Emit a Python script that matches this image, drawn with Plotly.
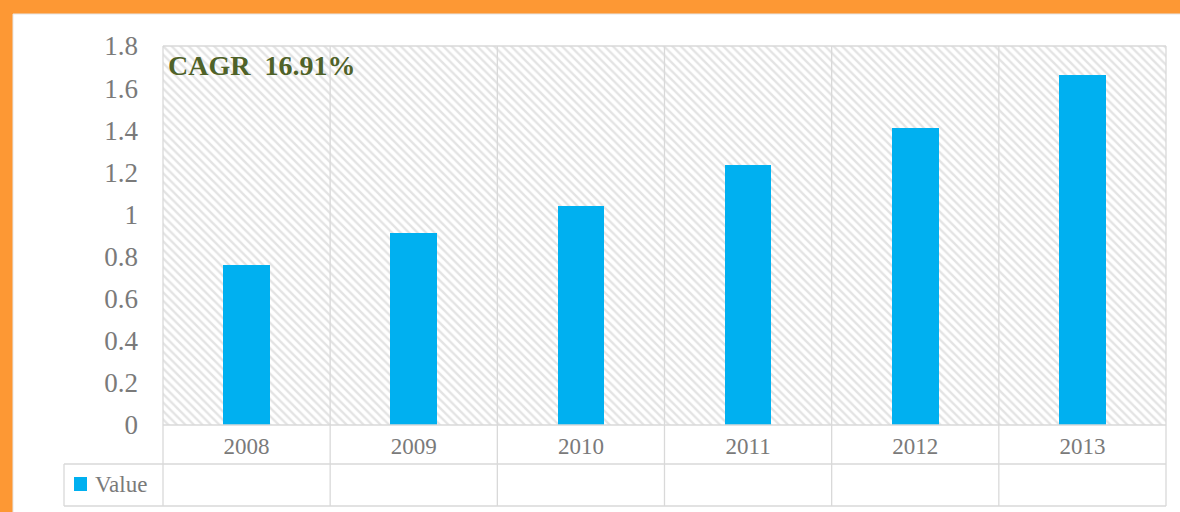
import plotly.graph_objects as go

years = ["2008", "2009", "2010", "2011", "2012", "2013"]
values = [0.76, 0.91, 1.04, 1.235, 1.41, 1.66]
y_max = 1.8
y_tick_step = 0.2
series_name = "Value"
cagr_text = "CAGR  16.91%"

W, H = 1180, 512
L, R, T, B = 163, 14, 46, 87
PW, PH = W - L - R, H - T - B

def px_x(x):
    return (x - L) / PW

def px_y(y):
    return (H - B - y) / PH

FONT = "Liberation Serif"
GRID = "#d9d9d9"
ORANGE = "#fd9834"
TICK = "#7a7a7a"
BAR = "#00b0f0"

fig = go.Figure()

# hatched background panels
fig.add_trace(go.Bar(
    x=years, y=[y_max] * len(years), width=1.0,
    marker=dict(color="white", line=dict(width=0),
                pattern=dict(shape="\\", fgcolor="#c8c8c8", bgcolor="white", size=6, solidity=0.4)),
    showlegend=False, hoverinfo="skip",
))
fig.add_trace(go.Bar(
    x=years, y=values, width=0.28, name=series_name,
    marker=dict(color=BAR, line=dict(width=0)), showlegend=False,
))

shapes = []
# orange frame + white card
shapes.append(dict(type="rect", xref="paper", yref="paper", layer="below",
                   x0=px_x(0), x1=px_x(W), y0=px_y(0), y1=px_y(H), fillcolor=ORANGE, line=dict(width=0)))
shapes.append(dict(type="rect", xref="paper", yref="paper", layer="below",
                   x0=px_x(13), x1=px_x(W + 5), y0=px_y(14), y1=px_y(H + 5), fillcolor="white",
                   line=dict(width=1, color="#e6e6e6")))
# table lines
n = len(years)
for k in range(n + 1):
    xp = k / n
    shapes.append(dict(type="line", xref="paper", yref="paper", x0=xp, x1=xp,
                       y0=1, y1=px_y(506), line=dict(color=GRID, width=1.3)))
for yy, x0 in [(425, 163), (464, 64), (506, 64)]:
    shapes.append(dict(type="line", xref="paper", yref="paper", x0=px_x(x0), x1=1,
                       y0=px_y(yy), y1=px_y(yy), line=dict(color=GRID, width=1.3)))
shapes.append(dict(type="line", xref="paper", yref="paper", x0=px_x(64), x1=px_x(64),
                   y0=px_y(464), y1=px_y(506), line=dict(color=GRID, width=1.3)))
shapes.append(dict(type="line", xref="paper", yref="paper", x0=0, x1=1,
                   y0=1, y1=1, line=dict(color=GRID, width=1.3)))
# legend key square
shapes.append(dict(type="rect", xref="paper", yref="paper", x0=px_x(74), x1=px_x(87),
                   y0=px_y(477), y1=px_y(491), fillcolor=BAR, line=dict(width=0)))

fig.update_layout(
    width=W, height=H,
    margin=dict(l=L, r=R, t=T, b=B),
    paper_bgcolor="white", plot_bgcolor="rgba(0,0,0,0)",
    barmode="overlay", bargap=0,
    shapes=shapes,
    showlegend=False,
    annotations=[
        dict(text="<b>" + cagr_text + "</b>", xref="paper", yref="paper",
             x=px_x(166), y=px_y(65), xanchor="left", yanchor="middle", showarrow=False,
             font=dict(family=FONT, size=28, color="#4f6228")),
        dict(text=series_name, xref="paper", yref="paper",
             x=px_x(93), y=px_y(484), xanchor="left", yanchor="middle", showarrow=False,
             font=dict(family=FONT, size=23, color=TICK)),
    ],
)
fig.update_xaxes(type="category", range=[-0.5, n - 0.5], showgrid=False, showline=False,
                 ticks="", tickfont=dict(family=FONT, size=23, color=TICK),
                 ticklabelstandoff=5, automargin=False)
fig.update_yaxes(range=[0, y_max], dtick=y_tick_step, tick0=0, showgrid=True, gridcolor=GRID,
                 gridwidth=1.3, zeroline=False, showline=False, ticks="",
                 tickfont=dict(family=FONT, size=27, color=TICK), ticklabelstandoff=24,
                 automargin=False)

fig.write_html("out.html", config={"displayModeBar": False},
               post_script="document.body.style.margin='0';document.body.style.overflow='hidden';")
